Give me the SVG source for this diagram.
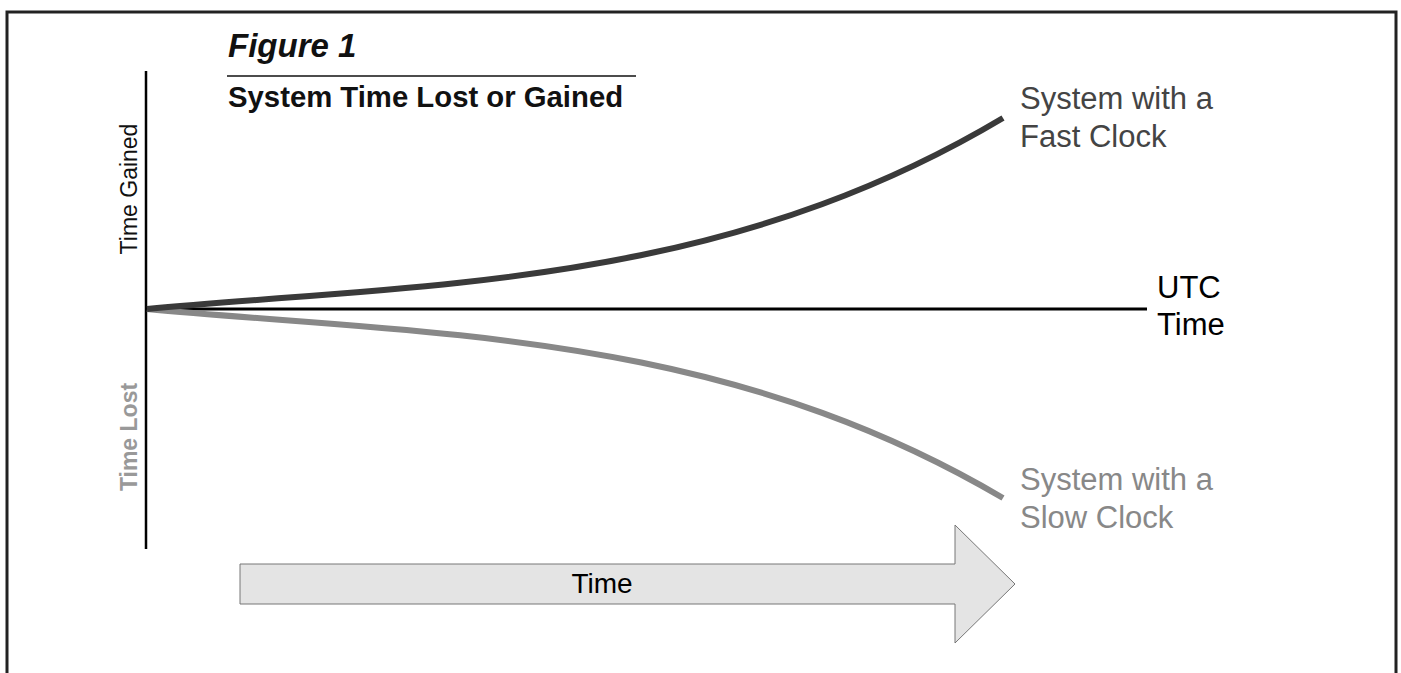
<svg xmlns="http://www.w3.org/2000/svg" width="1401" height="673" viewBox="0 0 1401 673">
  <style>
    .txt { font-family: "Liberation Sans", Arial, sans-serif; }
    .axis { stroke: #000; fill: none; }
    .curve { fill: none; stroke-width: 6; stroke-linecap: butt; }
    .label { font-size: 31px; }
  </style>
  <rect x="0" y="0" width="1401" height="673" fill="#fff"/>

  <!-- open frame (top, left, right) -->
  <g id="frame">
    <path d="M7 673 V12 H1396 V673" fill="none" stroke="#222" stroke-width="3"/>
  </g>

  <!-- title block -->
  <g id="title">
    <text class="txt" x="228" y="57" font-size="33" font-weight="bold" font-style="italic" fill="#111">Figure 1</text>
    <line x1="227" y1="76" x2="636" y2="76" stroke="#111" stroke-width="1.5"/>
    <text class="txt" x="228" y="107" font-size="29.3" font-weight="bold" fill="#111">System Time Lost or Gained</text>
  </g>

  <!-- axes and curves -->
  <g id="connectors">
    <line class="axis" x1="146" y1="71" x2="146" y2="549" stroke-width="2.5"/>
    <line class="axis" x1="146" y1="309" x2="1147" y2="309" stroke-width="3"/>
    <path class="curve" stroke="#888888" d="M147 309 C432 335.4 718 330.2 1003 498"/>
    <path class="curve" stroke="#3a3a3a" d="M147 309 C432 282.6 718 287.8 1003 118"/>
  </g>

  <g id="axis-labels">
    <text class="txt" transform="translate(137 189) rotate(-90)" text-anchor="middle" font-size="23" fill="#111">Time Gained</text>
    <text class="txt" transform="translate(137 437) rotate(-90)" text-anchor="middle" font-size="23" font-weight="bold" fill="#999">Time Lost</text>
  </g>

  <g id="utc-label">
    <text class="txt label" x="1157" y="298" fill="#000">UTC</text>
    <text class="txt label" x="1157" y="335" fill="#000">Time</text>
  </g>

  <g id="fast-label">
    <text class="txt label" x="1020" y="109" fill="#444">System with a</text>
    <text class="txt label" x="1020" y="147" fill="#444">Fast Clock</text>
  </g>

  <g id="slow-label">
    <text class="txt label" x="1020" y="490" fill="#888">System with a</text>
    <text class="txt label" x="1020" y="528" fill="#888">Slow Clock</text>
  </g>

  <!-- time arrow -->
  <g id="time-arrow">
    <path d="M240 564 H955 V525 L1015 584 L955 643 V604 H240 Z" fill="#e4e4e4" stroke="#777" stroke-width="1"/>
    <text class="txt" x="602" y="593" text-anchor="middle" font-size="28" fill="#000">Time</text>
  </g>
</svg>
